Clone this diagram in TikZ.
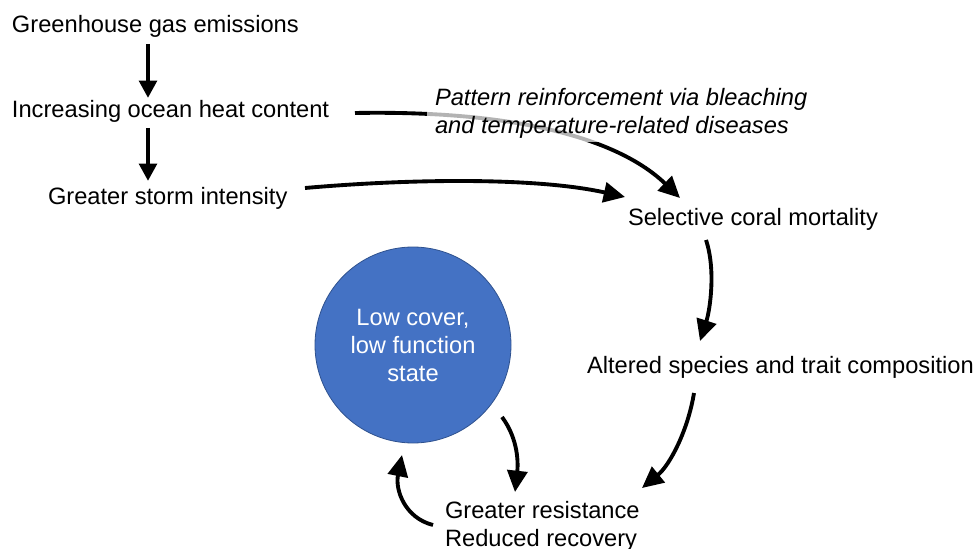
\documentclass[tikz,border=0pt]{standalone}
\usepackage{fontspec}
\setmainfont{Liberation Sans}
\usepackage{tikz}
\usetikzlibrary{arrows.meta,calc}
\definecolor{statefill}{RGB}{68,114,196}
\definecolor{stateline}{RGB}{47,82,143}
\tikzset{
  loopdiagram/.style={
    x=0.75pt
    ,y=-0.75pt
    ,every node/.style={inner sep=0pt,outer sep=0pt}
  }
  ,cause/.style={
    font=\fontsize{17.75pt}{21pt}\selectfont
    ,anchor=base west
    ,align=left
  }
  ,pathway/.style={cause
    ,font=\fontsize{17.75pt}{21pt}\selectfont\itshape
    ,fill=white, fill opacity=.7, text opacity=1
    ,inner xsep=6pt, inner ysep=2pt
  }
  ,lowstate/.style={circle
    ,fill=statefill, draw=stateline, line width=.6pt
    ,minimum size=147pt
    ,text=white, align=center
    ,font=\fontsize{17.75pt}{21pt}\selectfont
  }
  ,push/.style={-{Triangle[length=13pt,width=13pt]}, line width=3.6pt}
  ,flow/.style={-{Triangle[length=16pt,width=15pt]}, line width=2.9pt}
}

\begin{document}
\begin{tikzpicture}[loopdiagram]
    \useasboundingbox (0,0) rectangle (977,549);
    % drivers
    \node[cause] (ghg) at (12,33) {Greenhouse gas emissions};
    \node[cause] (ohc) at (12,118) {Increasing ocean heat content};
    \node[cause] (gsi) at (48,204) {Greater storm intensity};
    % reef response (base of a two-line node is its last line)
    \node[cause] (scm) at (628,225) {Selective coral mortality};
    \node[cause] (asc) at (587,373) {Altered species and trait composition};
    \node[cause] (grr) at (445,546) {Greater resistance\\Reduced recovery};
    \node[lowstate] (low) at (413,345) {Low cover,\\low function\\state};
    % arrows
    \draw[push] ($(ghg.base west)+(136,11)$) -- ($(ohc.base west)+(136,-20)$);
    \draw[push] ($(ohc.base west)+(136,10)$) -- ($(gsi.base west)+(100,-23)$);
    \draw[flow] ($(ohc.base west)+(343,-5)$)
      .. controls +(165,-3) and +(-60,-58) .. ($(scm.base west)+(52,-27)$);
    \draw[flow] ($(gsi.base west)+(257,-16)$)
      .. controls +(115,-10) and +(-85,-19) .. ($(scm.base west)+(-3,-28)$);
    \draw[flow] ($(scm.base west)+(78,15)$)
      .. controls +(10,30) and +(10,-31) .. ($(asc.base west)+(113,-32)$);
    \draw[flow] ($(asc.base west)+(107,20)$)
      .. controls +(-6,37) and +(28,-23) .. ($(grr.base west)+(197,-58)$);
    \draw[flow] ($(low.center)+(89,72)$)
      .. controls +(17,23) and +(3,-27) .. ($(grr.base west)+(70,-54)$);
    \draw[flow] ($(grr.base west)+(-12,-21)$)
      .. controls +(-28,-7) and +(-7,35) .. ($(low.center)+(-11,110)$);
    % label over the heat arrow
    \node[pathway] (pat) at (427,134)
      {Pattern reinforcement via bleaching\\and temperature-related diseases};
\end{tikzpicture}
\end{document}
